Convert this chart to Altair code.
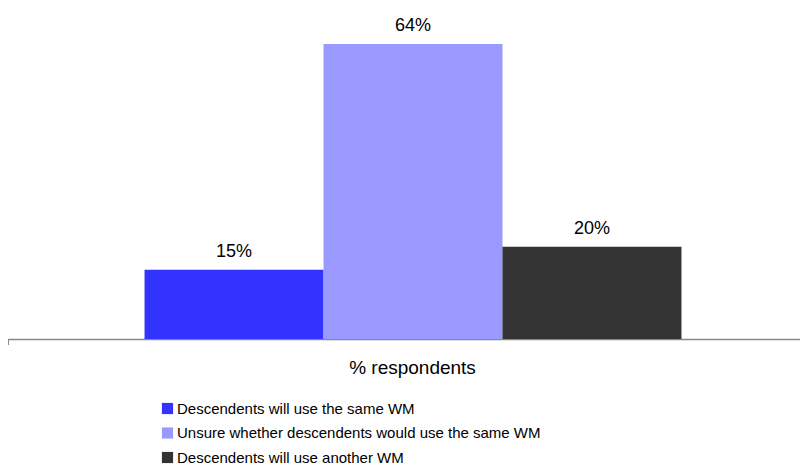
import altair as alt
import pandas as pd

categories = [
    "Descendents will use the same WM",
    "Unsure whether descendents would use the same WM",
    "Descendents will use another WM",
]
values = [15, 64, 20]
labels = ["15%", "64%", "20%"]
colors = ["#3333FF", "#9999FF", "#333333"]

df = pd.DataFrame({"cat": categories, "val": values, "lab": labels})

FONT = "Liberation Sans"

x = alt.X("cat:N", sort=categories,
          scale=alt.Scale(paddingInner=0, paddingOuter=0.763, range=[0, 810]),
          axis=alt.Axis(labels=False, ticks=False, title="% respondents",
                        domainColor="#888888", domainWidth=1.5,
                        titleFontSize=19, titleFont=FONT, titleFontWeight="normal",
                        titleColor="#000000", titlePadding=19, titleX=404))
y = alt.Y("val:Q", scale=alt.Scale(domain=[0, 71.8], nice=False),
          axis=None)

bars = alt.Chart(df).mark_bar(size=179).encode(
    x=x, y=y,
    color=alt.Color("cat:N", sort=categories,
                    scale=alt.Scale(domain=categories, range=colors),
                    legend=alt.Legend(title=None, orient="none",
                                      legendX=152, legendY=393,
                                      symbolType="square", symbolSize=125,
                                      symbolStrokeWidth=0, labelOffset=2,
                                      labelFontSize=15, labelFont=FONT,
                                      labelColor="#000000", rowPadding=8.5,
                                      labelLimit=700)),
)

text = alt.Chart(df).mark_text(baseline="alphabetic", dy=-13, fontSize=18,
                               font=FONT, color="#000000").encode(
    x=alt.X("cat:N", sort=categories), y="val:Q", text="lab:N")

tick = alt.Chart(df).mark_rule(color="#888888", strokeWidth=1.5).encode(
    x=alt.value(0), y=alt.value(331), y2=alt.value(337))

chart = alt.layer(bars, text, tick).properties(
    width=792, height=331,
    autosize=alt.AutoSizeParams(type="none"),
    padding={"left": 0, "top": 0, "right": 0, "bottom": 126},
).configure_view(stroke=None)

chart.save("out.html", embed_options={"renderer": "svg", "actions": False})
